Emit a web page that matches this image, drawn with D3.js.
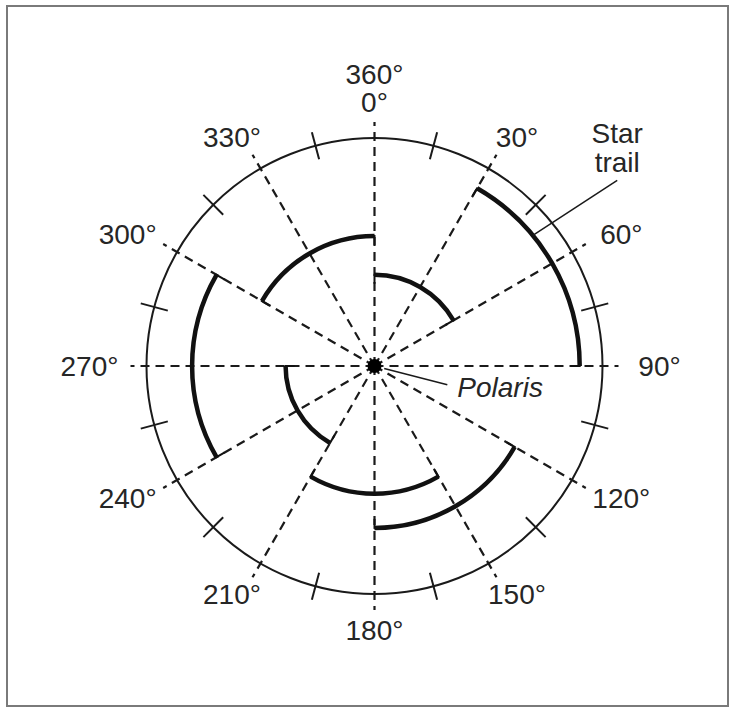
<!DOCTYPE html>
<html>
<head>
<meta charset="utf-8">
<script src="https://cdn.jsdelivr.net/npm/d3@7"></script>
<style>
  body { margin: 0; background: #fff; }
  text { font-family: "Liberation Sans", Arial, Helvetica, sans-serif; fill: #262626; }
</style>
</head>
<body>
<script>
// Star trails: start / end angle in degrees (clockwise from 0° at top),
// radius in percent of the dial radius
var trailStart  = [30, 120, 150, 240, 210, 300, 0];
var trailEnd    = [90, 180, 210, 300, 270, 360, 60];
var trailRadius = [90, 71, 56, 80, 39, 57, 40];

// Dashed spokes, crossing ticks and degree labels
var spokeAngles = [0, 30, 60, 90, 120, 150, 180, 210, 240, 270, 300, 330];
var tickAngles  = [15, 45, 75, 105, 135, 165, 195, 225, 255, 285, 315, 345];
var labelAngles = [0, 30, 60, 90, 120, 150, 180, 210, 240, 270, 300, 330];
var labelText   = [["360°", "0°"], ["30°"], ["60°"], ["90°"], ["120°"], ["150°"],
                   ["180°"], ["210°"], ["240°"], ["270°"], ["300°"], ["330°"]];

// Callouts: [angle, radius %] of the leader ends
var polarisLeader = [[105, 4.4], [104.5, 33]];
var trailLeader   = [[50.5, 90], [52.6, 134]];

var width = 735, height = 710;
var cx = 374.5, cy = 366, dialR = 228;

var svg = d3.select("body").append("svg")
    .attr("width", width)
    .attr("height", height);

// scales
var ang = d3.scaleLinear().domain([0, 360]).range([0, 2 * Math.PI]);
var rad = d3.scaleLinear().domain([0, 100]).range([0, dialR]);

// polar -> screen, r in pixels
function px(deg, r) { return cx + r * Math.sin(ang(deg)); }
function py(deg, r) { return cy - r * Math.cos(ang(deg)); }

// frame
svg.append("rect")
    .attr("x", 7).attr("y", 6)
    .attr("width", 721).attr("height", 700)
    .style("fill", "none")
    .style("stroke", "#7a7a7a")
    .style("stroke-width", 2);

// dashed spokes from Polaris out past the dial
svg.selectAll(".spoke")
  .data(spokeAngles)
  .enter().append("line")
    .attr("class", "spoke")
    .attr("x1", cx).attr("y1", cy)
    .attr("x2", function(d) { return px(d, dialR + 16); })
    .attr("y2", function(d) { return py(d, dialR + 16); })
    .style("stroke", "#1a1a1a")
    .style("stroke-width", 2.2)
    .style("stroke-dasharray", "9,6");

// dial
svg.append("circle")
    .attr("cx", cx).attr("cy", cy).attr("r", rad(100))
    .style("fill", "none")
    .style("stroke", "#1a1a1a")
    .style("stroke-width", 2);

svg.selectAll(".tick")
  .data(tickAngles)
  .enter().append("line")
    .attr("class", "tick")
    .attr("x1", function(d) { return px(d, dialR - 14); })
    .attr("y1", function(d) { return py(d, dialR - 14); })
    .attr("x2", function(d) { return px(d, dialR + 14); })
    .attr("y2", function(d) { return py(d, dialR + 14); })
    .style("stroke", "#1a1a1a")
    .style("stroke-width", 2);

// star trails
var trails = trailStart.map(function(s, i) {
  return { start: s, end: trailEnd[i], r: trailRadius[i] };
});

svg.selectAll(".trail")
  .data(trails)
  .enter().append("path")
    .attr("class", "trail")
    .attr("d", function(d) {
      var p = d3.path();
      p.arc(cx, cy, rad(d.r), ang(d.start) - Math.PI / 2, ang(d.end) - Math.PI / 2);
      return p.toString();
    })
    .style("fill", "none")
    .style("stroke", "#111")
    .style("stroke-width", 4.5);

// little end caps pointing in toward Polaris
var caps = [];
trails.forEach(function(t) {
  caps.push({ a: t.start, r: t.r });
  caps.push({ a: t.end, r: t.r });
});

svg.selectAll(".cap")
  .data(caps)
  .enter().append("line")
    .attr("class", "cap")
    .attr("x1", function(d) { return px(d.a, rad(d.r) + 1); })
    .attr("y1", function(d) { return py(d.a, rad(d.r) + 1); })
    .attr("x2", function(d) { return px(d.a, rad(d.r) - 9); })
    .attr("y2", function(d) { return py(d.a, rad(d.r) - 9); })
    .style("stroke", "#111")
    .style("stroke-width", 2);

// Polaris
svg.append("circle")
    .attr("cx", cx).attr("cy", cy).attr("r", 7)
    .style("fill", "#000");

// callout leaders
[polarisLeader, trailLeader].forEach(function(l) {
  svg.append("line")
      .attr("x1", px(l[0][0], rad(l[0][1])))
      .attr("y1", py(l[0][0], rad(l[0][1])))
      .attr("x2", px(l[1][0], rad(l[1][1])))
      .attr("y2", py(l[1][0], rad(l[1][1])))
      .style("stroke", "#1a1a1a")
      .style("stroke-width", 1.5);
});

var pEndX = px(polarisLeader[1][0], rad(polarisLeader[1][1]));
var pEndY = py(polarisLeader[1][0], rad(polarisLeader[1][1]));
svg.append("text")
    .attr("x", pEndX + 10)
    .attr("y", pEndY + 12)
    .style("font-size", "28px")
    .style("font-style", "italic")
    .text("Polaris");

var tEndX = px(trailLeader[1][0], rad(trailLeader[1][1]));
var tEndY = py(trailLeader[1][0], rad(trailLeader[1][1]));
svg.append("text")
    .attr("x", tEndX).attr("y", tEndY - 37)
    .style("font-size", "28px")
    .style("text-anchor", "middle")
    .text("Star");
svg.append("text")
    .attr("x", tEndX).attr("y", tEndY - 8)
    .style("font-size", "28px")
    .style("text-anchor", "middle")
    .text("trail");

// degree labels, placed on an ellipse around the dial
var labelRx = 285, labelRy = 264;
labelAngles.forEach(function(a, i) {
  var lines = labelText[i];
  var x = cx + labelRx * Math.sin(ang(a));
  var y = cy - labelRy * Math.cos(ang(a));
  var t = svg.append("text")
      .attr("x", x).attr("y", y)
      .style("font-size", "28px")
      .style("text-anchor", "middle");
  lines.forEach(function(s, j) {
    t.append("tspan")
        .attr("x", x)
        .attr("y", y + (j - (lines.length - 1)) * 28)
        .attr("dy", "0.35em")
        .text(s);
  });
});
</script>
</body>
</html>
